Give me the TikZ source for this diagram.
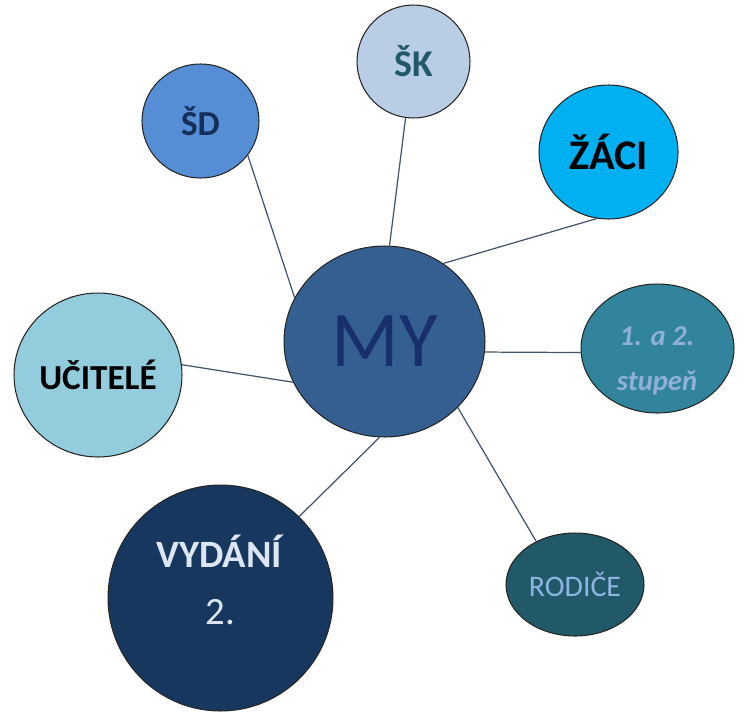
\documentclass[tikz,border=0pt]{standalone}
\usepackage{fontspec}
\setmainfont{Carlito}
\usetikzlibrary{shapes.geometric}

\definecolor{myfill}{HTML}{365F91}
\definecolor{mytext}{HTML}{172F6B}
\definecolor{sdfill}{HTML}{558ED5}
\definecolor{sdtext}{HTML}{14305A}
\definecolor{skfill}{HTML}{B9CDE5}
\definecolor{sktext}{HTML}{215968}
\definecolor{zacifill}{HTML}{00B0F0}
\definecolor{stupfill}{HTML}{31849B}
\definecolor{stuptext}{HTML}{8FB0DA}
\definecolor{ucitfill}{HTML}{93CDDD}
\definecolor{vydfill}{HTML}{17375E}
\definecolor{vydtext}{HTML}{DCE6F2}
\definecolor{rodfill}{HTML}{215968}
\definecolor{rodtext}{HTML}{8EB4E3}
\definecolor{linkgray}{HTML}{44546A}

\tikzset{
  bubble/.style={ellipse, draw=black!85, line width=0.6pt, inner sep=0pt},
  link/.style={draw=linkgray, line width=0.7pt},
}

\begin{document}
\begin{tikzpicture}[x=0.02cm, y=-0.02cm]
  \useasboundingbox (0,0) rectangle (750,727);
  \node[bubble, fill=myfill, minimum width=4.02cm, minimum height=3.82cm,
    text=mytext, font=\fontsize{45}{45}\selectfont] (my) at (384.5,341.5) {MY};
  \node[bubble, fill=sdfill, minimum width=2.34cm, minimum height=2.28cm,
    text=sdtext, font=\fontsize{20}{22}\selectfont\bfseries] (sd) at (200.5,121) {ŠD};
  \node[bubble, fill=skfill, minimum width=2.26cm, minimum height=2.26cm,
    text=sktext, font=\fontsize{21.5}{24}\selectfont\bfseries] (sk) at (413.5,61.5) {ŠK};
  \node[bubble, fill=zacifill, minimum width=2.78cm, minimum height=2.68cm,
    text=black, font=\fontsize{24}{27}\selectfont\bfseries] (zaci) at (608.5,152) {ŽÁCI};
  \node[bubble, fill=stupfill, minimum width=3.06cm, minimum height=2.58cm] (stup) at (657.5,348.5) {};
  \node[bubble, fill=ucitfill, minimum width=3.36cm, minimum height=3.28cm,
    text=black, font=\fontsize{20}{22}\selectfont\bfseries] (ucit) at (98,375) {UČITELÉ};
  \node[bubble, fill=vydfill, minimum width=4.50cm, minimum height=4.52cm] (vyd) at (220.5,598) {};
  \node[bubble, fill=rodfill, minimum width=2.76cm, minimum height=2.06cm,
    text=rodtext, font=\fontsize{17}{20}\selectfont] (rod) at (575,584.5) {RODIČE};
  \node[text=stuptext, align=center, font=\fontsize{16.3}{26}\selectfont\bfseries\itshape]
    (stuplbl) at (657,361) {1. a 2.\\stupeň};
  \node[text=vydtext, align=center, font=\fontsize{22}{32.4}\selectfont]
    (vydlbl) at (220.5,580) {\textbf{VYDÁNÍ}\\2.};
  \foreach \a/\b/\c/\d in {my/154/sd/-36, my/87/sk/-98, my/53/zaci/-100,
      my/-6.5/stup/183, my/-42.6/rod/132, my/-93/vyd/46, my/-156/ucit/7}
    \draw[link] (\a.\b) -- (\c.\d);
\end{tikzpicture}
\end{document}
